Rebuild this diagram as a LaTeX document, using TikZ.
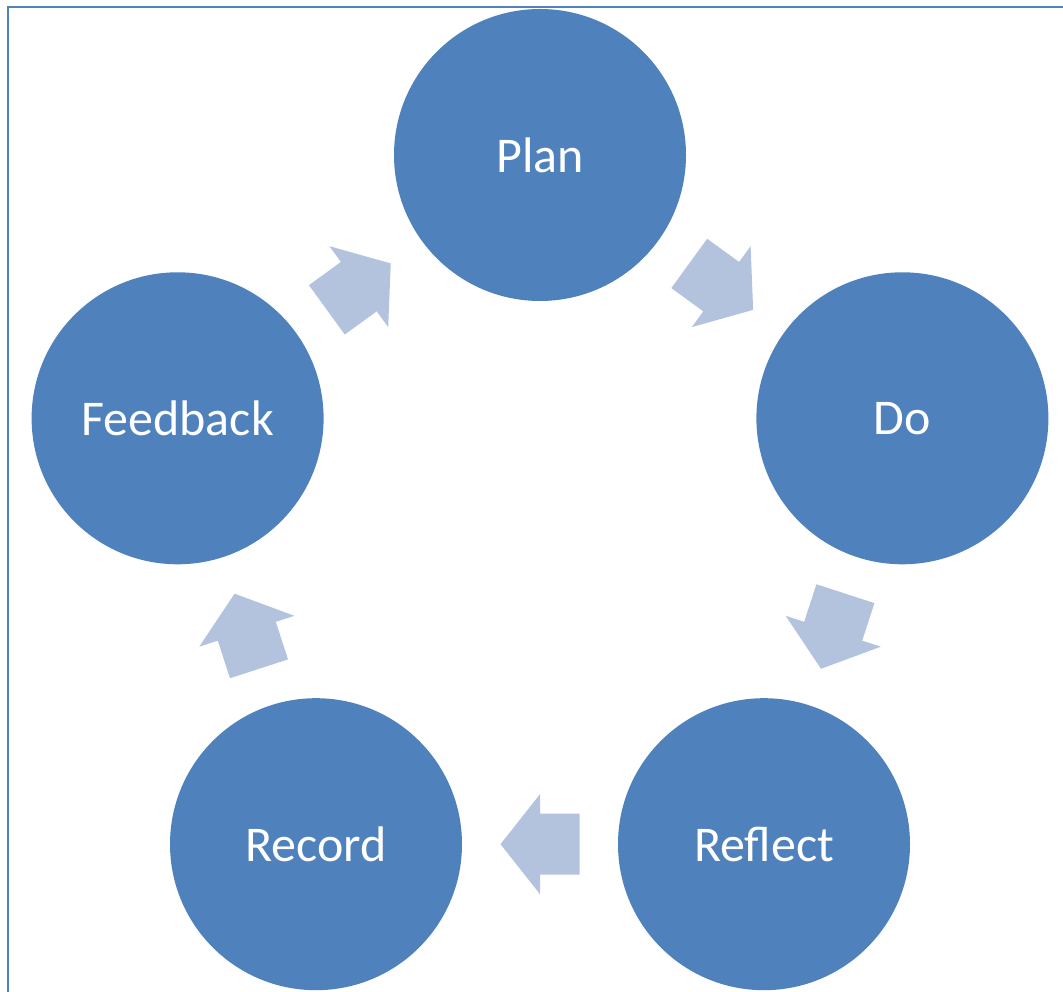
\documentclass[tikz,border=0pt]{standalone}
\usepackage{fontspec}
\setmainfont{Carlito}
\definecolor{circblue}{HTML}{4F81BD}
\definecolor{arrowblue}{HTML}{B3C3DE}
\tikzset{
  stage/.style={circle, fill=circblue, draw=none, minimum size=292pt, inner sep=0pt,
    text=white, font=\fontsize{50}{60}\selectfont},
  blockarrow/.style={fill=arrowblue, draw=none}
}
\newcommand{\cyclearrow}[3]{% from, to, angle
  \begin{scope}[shift={($(#1)!0.5!(#2)$)}, rotate=#3]
    \path[blockarrow] (-39.5,-30.5) -- (0,-30.5) -- (0,-50) -- (39.5,0) -- (0,50) -- (0,30.5) -- (-39.5,30.5) -- cycle;
  \end{scope}}
\usetikzlibrary{calc}
\begin{document}
\begin{tikzpicture}[x=1pt,y=1pt]
\useasboundingbox (0,0) rectangle (1063,991);
\clip (0,0) rectangle (1063,991);
\draw[circblue, line width=2pt] (7.5,-10) -- (7.5,983.5) -- (1075,983.5);
\node[stage] (plan) at (540,836) {Plan};
\node[stage] (do) at (902.4,572.7) {Do};
\node[stage] (reflect) at (764,146.8) {Reflect};
\node[stage] (record) at (316,146.8) {Record};
\node[stage] (feedback) at (177.6,572.7) {Feedback};
\cyclearrow{plan.center}{do.center}{-36}
\cyclearrow{do.center}{reflect.center}{-108}
\cyclearrow{reflect.center}{record.center}{180}
\cyclearrow{record.center}{feedback.center}{108}
\cyclearrow{feedback.center}{plan.center}{36}
\end{tikzpicture}
\end{document}
